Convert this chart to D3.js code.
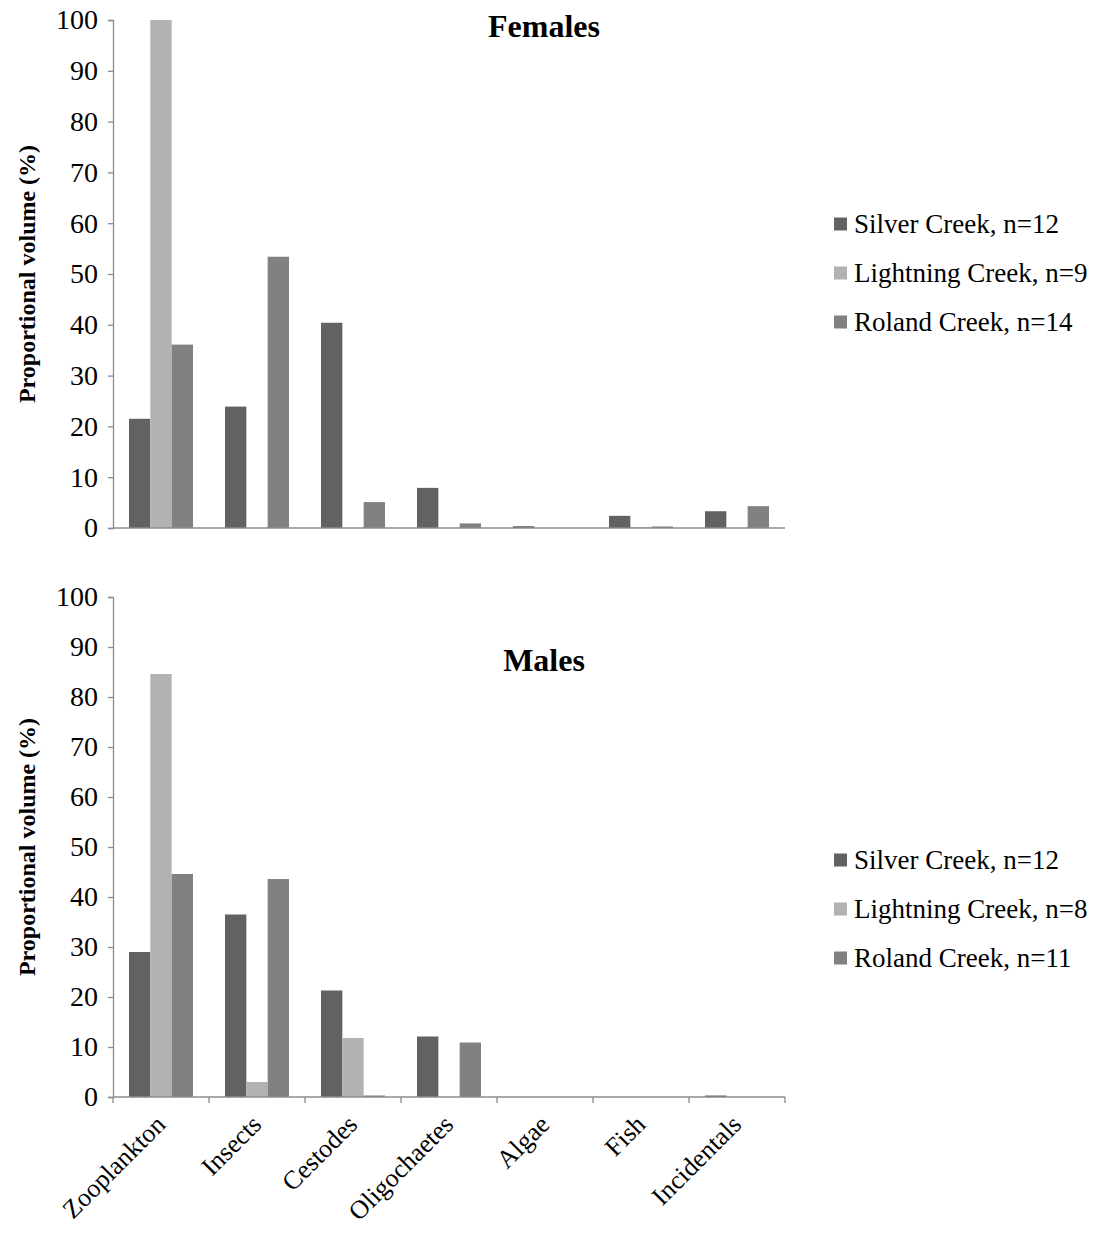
<!DOCTYPE html>
<html><head><meta charset="utf-8">
<script src="https://cdn.jsdelivr.net/npm/d3@7"></script>
<style>body{margin:0;background:#fff}svg{display:block}text{font-family:"Liberation Serif","Times New Roman",serif;fill:#000}</style>
</head><body>
<script>
const categories = ["Zooplankton","Insects","Cestodes","Oligochaetes","Algae","Fish","Incidentals"];
const seriesNames = ["Silver Creek","Lightning Creek","Roland Creek"];
const femaleLegend = ["Silver Creek, n=12","Lightning Creek, n=9","Roland Creek, n=14"];
const maleLegend = ["Silver Creek, n=12","Lightning Creek, n=8","Roland Creek, n=11"];
const femaleSilver = [21.5, 23.9, 40.4, 7.9, 0.35, 2.4, 3.3];
const femaleLightning = [100, 0, 0, 0, 0, 0.15, 0];
const femaleRoland = [36.1, 53.4, 5.1, 0.9, 0, 0.3, 4.3];
const maleSilver = [29.0, 36.5, 21.3, 12.1, 0, 0, 0.3];
const maleLightning = [84.6, 3.0, 11.8, 0, 0, 0, 0];
const maleRoland = [44.6, 43.6, 0.3, 10.9, 0, 0, 0];
const yTicks = [0,10,20,30,40,50,60,70,80,90,100];
const colors = ["#626262","#b2b2b2","#818181"];

const W = 1094, H = 1233;
const svg = d3.select("body").append("svg").attr("width", W).attr("height", H);

function panel(cfg) {
  const {top, bottom, title, titleY, values, legend, legendY, showX} = cfg;
  const left = 113, right = 785;
  const x0 = d3.scaleBand().domain(categories).range([left, right]).paddingInner(0).paddingOuter(0);
  const bw = x0.bandwidth();
  const barW = bw / 4.5;
  const x1 = d3.scaleBand().domain(seriesNames).range([0.75 * barW, bw - 0.75 * barW]).padding(0);
  const y = d3.scaleLinear().domain([0, 100]).range([bottom, top]);
  const g = svg.append("g");

  seriesNames.forEach((s, si) => {
    g.append("g").selectAll("rect").data(values[si]).join("rect")
      .attr("x", (d, i) => x0(categories[i]) + x1(s))
      .attr("width", x1.bandwidth())
      .attr("y", d => y(d))
      .attr("height", d => bottom - y(d))
      .attr("fill", colors[si]);
  });

  const ya = g.append("g").attr("transform", `translate(${left},0)`)
    .call(d3.axisLeft(y).tickValues(yTicks).tickSize(5).tickPadding(10));
  ya.select(".domain").attr("stroke", "#8c8c8c").attr("stroke-width", 1.3);
  ya.selectAll(".tick line").attr("stroke", "#8c8c8c").attr("stroke-width", 1.3);
  ya.selectAll(".tick text").attr("font-size", 28).attr("font-family", "Liberation Serif").attr("fill", "#000");

  const xa = g.append("g").attr("transform", `translate(0,${bottom})`);
  xa.append("line").attr("x1", left).attr("x2", right).attr("y1", 0).attr("y2", 0)
    .attr("stroke", "#8c8c8c").attr("stroke-width", 1.3);
  if (showX) {
    const bounds = categories.map(c => x0(c)).concat([right]);
    xa.selectAll("line.tk").data(bounds).join("line").attr("class", "tk")
      .attr("x1", d => d).attr("x2", d => d).attr("y1", 0).attr("y2", 6)
      .attr("stroke", "#8c8c8c").attr("stroke-width", 1.3);
    xa.selectAll("text.cat").data(categories).join("text").attr("class", "cat")
      .attr("transform", d => `translate(${x0(d) + bw / 2 + 6},${29}) rotate(-45)`)
      .attr("text-anchor", "end").attr("font-size", 26)
      .text(d => d);
  }

  g.append("text")
    .attr("transform", `translate(35,${(top + bottom) / 2}) rotate(-90)`)
    .attr("text-anchor", "middle").attr("font-size", 24).attr("font-weight", "bold")
    .text("Proportional volume (%)");

  g.append("text").attr("x", 544).attr("y", titleY).attr("text-anchor", "middle")
    .attr("font-size", 32).attr("font-weight", "bold").text(title);

  const lg = g.append("g");
  legend.forEach((t, i) => {
    const yy = legendY + i * 49;
    lg.append("rect").attr("x", 834).attr("y", yy - 6.5).attr("width", 13).attr("height", 13).attr("fill", colors[i]);
    lg.append("text").attr("x", 854).attr("y", yy).attr("dy", "0.35em").attr("font-size", 27).text(t);
  });
}

panel({top: 20, bottom: 528, title: "Females", titleY: 37,
  values: [femaleSilver, femaleLightning, femaleRoland], legend: femaleLegend, legendY: 224, showX: false});
panel({top: 597, bottom: 1097, title: "Males", titleY: 671,
  values: [maleSilver, maleLightning, maleRoland], legend: maleLegend, legendY: 860, showX: true});
</script>
</body></html>
